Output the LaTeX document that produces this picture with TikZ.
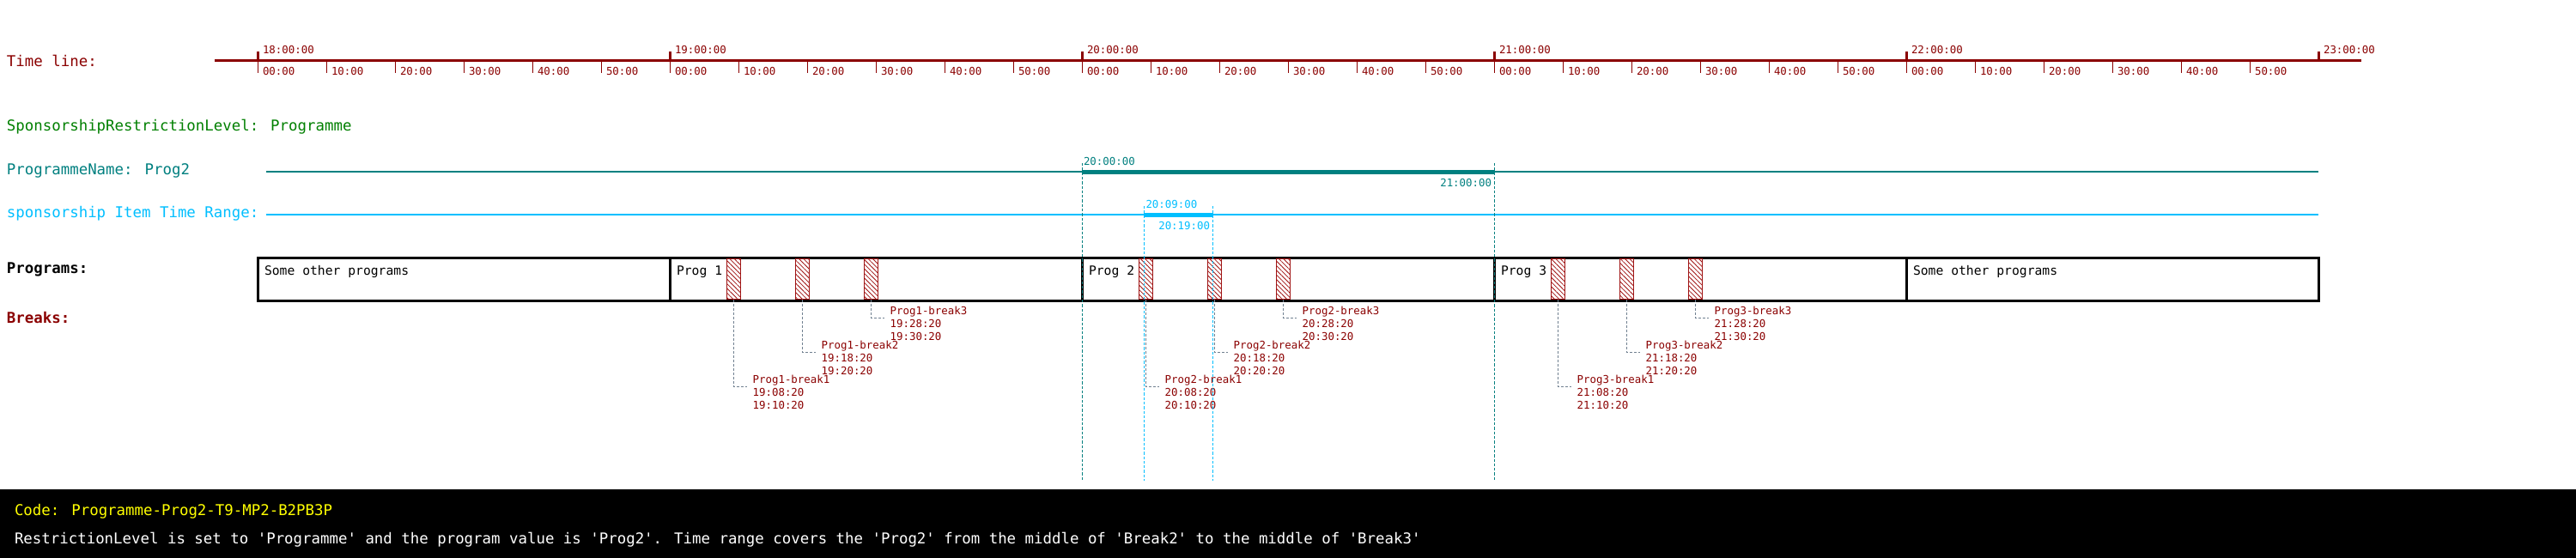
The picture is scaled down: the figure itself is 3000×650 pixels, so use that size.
\documentclass[tikz,border=0pt]{standalone}
\usepackage{fontspec}
\newfontfamily\mono{DejaVu Sans Mono}
\usetikzlibrary{patterns.meta}
\definecolor{tlred}{HTML}{8B0000}
\definecolor{brkred}{HTML}{A01414}
\definecolor{rgreen}{HTML}{008000}
\definecolor{rteal}{HTML}{008080}
\definecolor{rcyan}{HTML}{00BFFF}
\definecolor{conngray}{HTML}{708090}
\definecolor{ryellow}{HTML}{FFFF00}
\begin{document}
\begin{tikzpicture}[x=1pt,y=-1pt,
  big/.style={font=\mono\fontsize{17.4}{20}\selectfont, anchor=base west, inner sep=0pt, outer sep=0pt},
  small/.style={font=\mono\fontsize{12.4}{15}\selectfont, anchor=base west, inner sep=0pt, outer sep=0pt},
  smallr/.style={small, anchor=base east},
  boxtxt/.style={font=\mono\fontsize{14.7}{18}\selectfont, anchor=base west, inner sep=0pt, outer sep=0pt},
  progbox/.style={draw=black, line width=3pt, minimum width=480pt, minimum height=50pt, anchor=north west, inner sep=0pt, outer sep=0pt},
  brk/.style={draw=brkred, line width=0.9pt, pattern={Lines[angle=-45,distance=3.8pt,line width=0.8pt]}, pattern color=brkred, minimum width=16pt, minimum height=47pt, anchor=north west, inner sep=0pt, outer sep=0pt},
  conn/.style={draw=conngray, line width=1pt, dash pattern=on 3pt off 2pt},
  tealdash/.style={draw=rteal, line width=1pt, dash pattern=on 3.3pt off 2pt},
  cyandash/.style={draw=rcyan, line width=1pt, dash pattern=on 3.3pt off 2pt},
  hourtick/.style={draw=tlred, line width=3pt},
  mintick/.style={draw=tlred, line width=1pt},
]
\useasboundingbox (0,0) rectangle (3000,650);
\fill[white] (0,0) rectangle (3000,650);

% time line
\draw[tlred, line width=3pt] (250,70.7) -- (2750,70.7);
\foreach \h [count=\i from 0] in {18,19,20,21,22} {
  \pgfmathsetmacro\hx{300+480*\i}
  \draw[hourtick] (\hx,60) -- (\hx,70.7);
  \node[small, text=tlred] (h\h) at (\hx+6,62.2) {\h:00:00};
  \foreach \m in {0,...,5} {
    \draw[mintick] (\hx+80*\m,70.7) -- (\hx+80*\m,85);
    \node[small, text=tlred] (m\h\m) at (\hx+80*\m+6,87.8) {\m0:00};
  }
}
\draw[hourtick] (2700,60) -- (2700,70.7);
\node[small, text=tlred] (h23) at (2706,62.2) {23:00:00};

% row labels
\node[big, text=tlred] (tl) at (8,77.3) {Time line:};
\node[big, text=rgreen] (srl) at (8,152.3) {SponsorshipRestrictionLevel: Programme};
\node[big, text=rteal] (pn) at (8,203) {ProgrammeName: Prog2};
\node[big, text=rcyan] (sitr) at (8,253) {sponsorship Item Time Range:};
\node[big, text=black] (progs) at (8,318) {\bfseries Programs:};
\node[big, text=tlred] (brks) at (8,376) {\bfseries Breaks:};

% programme name line
\draw[rteal, line width=1.5pt] (310,200) -- (2700,200);
\draw[rteal, line width=5pt] (1260,200) -- (1740,200);
\node[small, text=rteal] (pns) at (1262,192.2) {20:00:00};
\node[smallr, text=rteal] (pne) at (1737,217.2) {21:00:00};

% sponsorship item time range
\draw[rcyan, line width=1.5pt] (310,250) -- (2700,250);
\draw[rcyan, line width=5pt] (1332,250) -- (1412,250);
\node[small, text=rcyan] (sis) at (1334.5,242.5) {20:09:00};
\node[smallr, text=rcyan] (sie) at (1409,267.8) {20:19:00};

% programmes
\node[progbox] (box0) at (300,300) {};
\node[progbox] (box1) at (780,300) {};
\node[progbox] (box2) at (1260,300) {};
\node[progbox] (box3) at (1740,300) {};
\node[progbox] (box4) at (2220,300) {};
\node[boxtxt] (t0) at (308,320.4) {Some other programs};
\node[boxtxt] (t1) at (788,320.4) {Prog 1};
\node[boxtxt] (t2) at (1268,320.4) {Prog 2};
\node[boxtxt] (t3) at (1748,320.4) {Prog 3};
\node[boxtxt] (t4) at (2228,320.4) {Some other programs};

% breaks
\foreach \p/\hh [count=\i from 0] in {1/19,2/20,3/21} {
  \pgfmathsetmacro\bx{780+480*\i}
  \foreach \k/\ty/\ma/\mb in {1/450/08/10,2/410/18/20,3/370/28/30} {
    \pgfmathsetmacro\sx{\bx+66.667+80*(\k-1)}
    \node[brk] (b\p\k) at (\sx,301.5) {};
    \coordinate (c\p\k) at (\sx+23,\ty);
    \draw[conn] (b\p\k.south) |- (c\p\k);
    \node[small, text=tlred] (la\p\k) at (\sx+30,\ty-3.5) {Prog\p-break\k};
    \node[small, text=tlred] (lb\p\k) at (\sx+30,\ty+11.5) {\hh:\ma:20};
    \node[small, text=tlred] (lc\p\k) at (\sx+30,\ty+26.5) {\hh:\mb:20};
  }
}

% guide lines
\coordinate (g1a) at (1260,190); \coordinate (g1b) at (1260,560);
\coordinate (g2a) at (1740,190); \coordinate (g2b) at (1740,560);
\coordinate (g3a) at (1332,240); \coordinate (g3b) at (1332,560);
\coordinate (g4a) at (1412,240); \coordinate (g4b) at (1412,560);
\draw[tealdash] (g1a) -- (g1b);
\draw[tealdash] (g2a) -- (g2b);
\draw[cyandash] (g3a) -- (g3b);
\draw[cyandash] (g4a) -- (g4b);

% bottom band
\fill[black] (0,570) rectangle (3000,650);
\node[big, text=ryellow] (code) at (17,600.3) {Code: Programme-Prog2-T9-MP2-B2PB3P};
\node[big, text=white] (desc) at (17,633) {RestrictionLevel is set to \textquotesingle Programme\textquotesingle{} and the program value is \textquotesingle Prog2\textquotesingle. Time range covers the \textquotesingle Prog2\textquotesingle{} from the middle of \textquotesingle Break2\textquotesingle{} to the middle of \textquotesingle Break3\textquotesingle};
\end{tikzpicture}
\end{document}
